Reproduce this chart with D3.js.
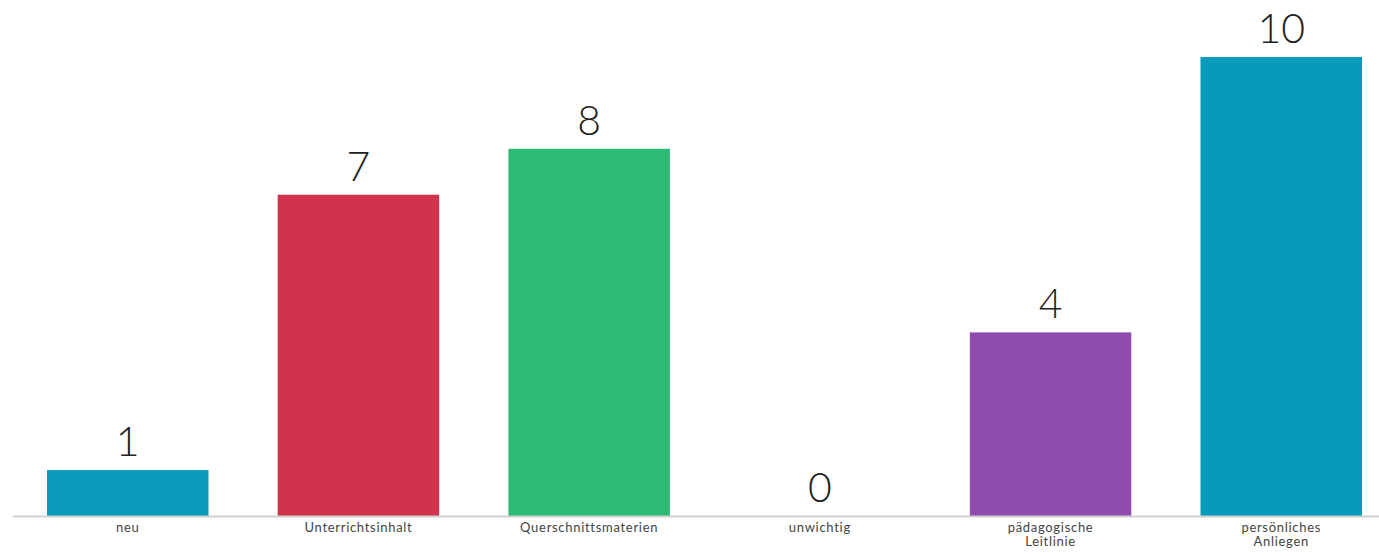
<!DOCTYPE html>
<html lang="de">
<head>
  <meta charset="UTF-8">
  <title>Balkendiagramm</title>
  <script src="https://cdnjs.cloudflare.com/ajax/libs/d3/7.8.5/d3.min.js"></script>
  <style>
    body { margin: 0; background: #fff; }
    #chart { width: 1379px; height: 556px; }
    .value { font-family: Lato, "Noto Sans", sans-serif; font-size: 41px; font-weight: 300; fill: #222; }
    .cat { font-family: Lato, "Noto Sans", sans-serif; font-size: 13px; fill: #444; letter-spacing: 0.7px; }
  </style>
</head>
<body>
  <div id="chart"></div>
  <script>
    // data
    const categories = ["neu", "Unterrichtsinhalt", "Querschnittsmaterien", "unwichtig", "pädagogische Leitlinie", "persönliches Anliegen"];
    const values = [1, 7, 8, 0, 4, 10];
    const colors = ["#0a9aba", "#d1334d", "#2dba74", "#e8a93a", "#8e4caf", "#069bba"];
    // label lines for wrapped categories
    const labelLines = [["neu"], ["Unterrichtsinhalt"], ["Querschnittsmaterien"], ["unwichtig"], ["pädagogische", "Leitlinie"], ["persönliches", "Anliegen"]];

    const width = 1379, height = 556;
    const baseline = 516;

    const svg = d3.select("#chart").append("svg")
      .attr("width", width)
      .attr("height", height);

    const x = d3.scaleBand()
      .domain(categories)
      .range([47, 1362])
      .paddingInner(0.3)
      .paddingOuter(0);

    const y = d3.scaleLinear()
      .domain([0, 10])
      .range([baseline, 57]);

    // bars
    svg.selectAll("rect.bar")
      .data(categories)
      .enter().append("rect")
      .attr("class", "bar")
      .attr("x", d => x(d))
      .attr("y", (d, i) => y(values[i]))
      .attr("width", x.bandwidth())
      .attr("height", (d, i) => baseline - y(values[i]))
      .attr("fill", (d, i) => colors[i]);

    // baseline
    svg.append("line")
      .attr("x1", 13).attr("x2", width)
      .attr("y1", baseline + 0.5).attr("y2", baseline + 0.5)
      .attr("stroke", "#cfcfcf")
      .attr("stroke-width", 2);

    // value labels
    svg.selectAll("text.value")
      .data(categories)
      .enter().append("text")
      .attr("class", "value")
      .attr("x", d => x(d) + x.bandwidth() / 2)
      .attr("y", (d, i) => y(values[i]) - 14)
      .attr("text-anchor", "middle")
      .text((d, i) => values[i]);

    // category labels
    const cats = svg.selectAll("text.cat")
      .data(categories)
      .enter().append("text")
      .attr("class", "cat")
      .attr("x", d => x(d) + x.bandwidth() / 2)
      .attr("y", 532)
      .attr("text-anchor", "middle");

    cats.selectAll("tspan")
      .data((d, i) => labelLines[i].map(l => ({ l, cx: x(d) + x.bandwidth() / 2 })))
      .enter().append("tspan")
      .attr("x", t => t.cx)
      .attr("dy", (t, j) => j === 0 ? 0 : 14)
      .text(t => t.l);
  </script>
</body>
</html>
